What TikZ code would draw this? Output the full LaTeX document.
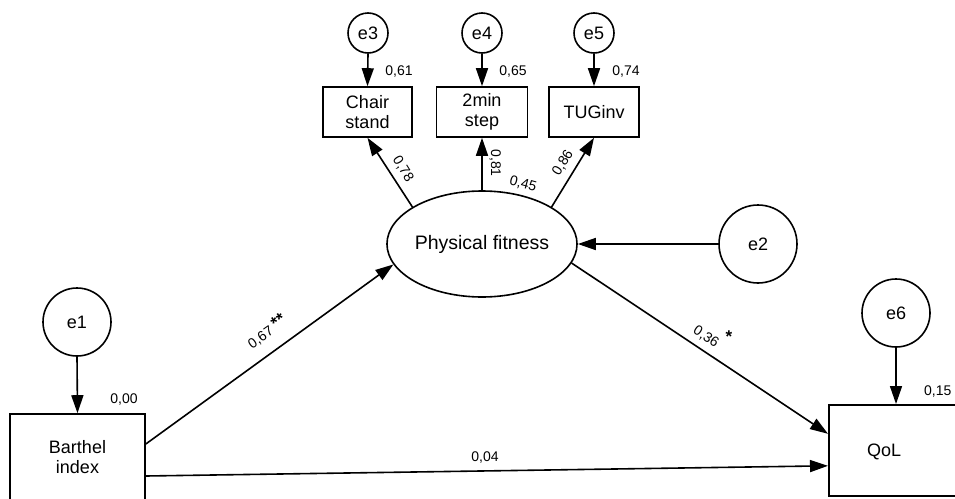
\documentclass[tikz,border=0pt]{standalone}
\usepackage{fontspec}
\setmainfont{Liberation Sans}
\usetikzlibrary{arrows.meta,shapes.geometric}
\begin{document}
\begin{tikzpicture}[x=1pt,y=-1pt,
  every node/.style={font=\fontsize{18}{20}\selectfont},
  errc/.style={draw,circle,line width=1.6pt,inner sep=0pt},
  obsbox/.style={draw,rectangle,line width=1.6pt,inner sep=0pt,align=center},
  latent/.style={draw,ellipse,line width=1.6pt,inner sep=0pt,font=\fontsize{19.5}{21}\selectfont},
  conn/.style={line width=1.6pt,-{Triangle[length=18pt,width=12pt]}},
  num/.style={font=\fontsize{14}{15}\selectfont,inner sep=0pt},
  star/.style={font=\bfseries\fontsize{17}{18}\selectfont,inner sep=0pt}]
\useasboundingbox (0,0) rectangle (955,498);
\clip (0,0) rectangle (955,498);
% nodes
\node[errc,minimum size=68pt] (e1) at (77,322) {e1};
\node[obsbox,minimum width=135pt,minimum height=86pt] (bar) at (77.5,457) {Barthel\\index};
\node[latent,minimum width=181pt,minimum height=106pt] (pf) at (482,244) {Physical fitness};
\node[errc,minimum size=78pt] (e2) at (758,244) {e2};
\node[errc,minimum size=40pt] (e3) at (368,33) {e3};
\node[errc,minimum size=40pt] (e4) at (482,33) {e4};
\node[errc,minimum size=40pt] (e5) at (594,33) {e5};
\node[obsbox,minimum width=89pt,minimum height=50pt] (cs) at (367.5,112) {Chair\\stand};
\node[obsbox,minimum width=91pt,minimum height=50pt] (ms) at (482,112) {2min\\step};
\node[obsbox,minimum width=90pt,minimum height=50pt] (tug) at (594,112) {TUGinv};
\node[errc,minimum size=68pt] (e6) at (896,313) {e6};
\node[obsbox,minimum width=150pt,minimum height=91pt,anchor=north west] (qol) at (828,404) {};
\node (qoltxt) at (884,452) {QoL};
% connectors
\draw[conn] (e1.south) -- (bar.north);
\draw[conn] (e3.south) -- (cs.north);
\draw[conn] (e4.south) -- (ms.north);
\draw[conn] (e5.south) -- (tug.north);
\draw[conn] (e6.south) -- (e6.south |- qol.north);
\draw[conn] (e2.west) -- (pf.east);
\draw[conn] (pf.152) -- (cs.south);
\draw[conn] (pf.north) -- (ms.south);
\draw[conn] (pf.28) -- (tug.south);
\draw[conn] ([yshift=13pt]bar.east) -- (pf.193);
\draw[conn] (pf.348) -- ([yshift=16.5pt]qol.west);
\draw[conn] ([yshift=-19pt]bar.east) -- ([yshift=-15.5pt]qol.west);
% labels
\node[num] (l00) at (124,400) {0,00};
\node[num] (l61) at (399,72) {0,61};
\node[num] (l65) at (513,72) {0,65};
\node[num] (l74) at (626,72) {0,74};
\node[num,rotate=-58] (l78) at (403,169) {0,78};
\node[num,rotate=-90] (l81) at (495,163) {0,81};
\node[num,rotate=-15] (l45) at (523,184) {0,45};
\node[num,rotate=58] (l86) at (563,163) {0,86};
\node[num,rotate=35] (l67) at (261,338) {0,67};
\node[star,rotate=35] (s67) at (278,321) {**};
\node[num,rotate=-33] (l36) at (706,337) {0,36};
\node[star] (s36) at (729,337) {*};
\node[num] (l04) at (485,457) {0,04};
\node[num,anchor=west] (l15) at (924,392) {0,15};
\end{tikzpicture}
\end{document}
